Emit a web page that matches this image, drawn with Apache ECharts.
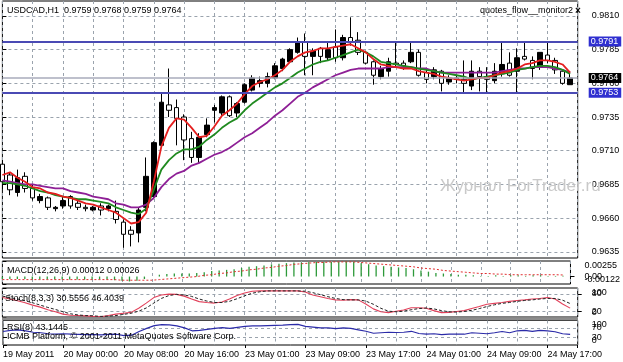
<!DOCTYPE html>
<html><head><meta charset="utf-8">
<script src="https://cdn.jsdelivr.net/npm/echarts@6/dist/echarts.min.js"></script>
<style>html,body{margin:0;padding:0;background:#fff}#c{width:623px;height:362px}</style>
</head><body><div id="c"></div><script>
const FONT = '"Liberation Sans", Arial, sans-serif';

// ---- data (H1 bars, index 0 = 19 May 2011 16:00) ----
const tickLabels = ['19 May 2011','20 May 00:00','20 May 08:00','20 May 16:00','23 May 01:00','23 May 09:00','23 May 17:00','24 May 01:00','24 May 09:00','24 May 17:00'];
const priceTicks = [0.9635,0.9660,0.9685,0.9710,0.9735,0.9760,0.9785,0.9810];
const levelLines = [0.9791, 0.9753];
const bidLine = 0.9764;

const open = [0.9700,0.9692,0.9679,0.9691,0.9682,0.9673,0.9675,0.9667,0.9669,0.9676,
0.9671,0.9668,0.9666,0.9669,0.9667,0.9665,0.9657,0.9651,0.9649,0.9668,
0.9676,0.9714,0.9744,0.9742,0.9735,0.9719,0.9705,0.9722,0.9740,0.9738,
0.9750,0.9738,0.9746,0.9755,0.9760,0.9760,0.9764,0.9771,0.9776,0.9783,
0.9791,0.9780,0.9786,0.9779,0.9787,0.9779,0.9794,0.9792,0.9783,0.9776,
0.9765,0.9769,0.9775,0.9775,0.9776,0.9783,0.9768,0.9765,0.9769,0.9761,
0.9764,0.9763,0.9758,0.9769,0.9765,0.9762,0.9767,0.9775,0.9769,0.9780,
0.9777,0.9772,0.9781,0.9777,0.9769,0.9759];
const close = [0.9687,0.9681,0.9690,0.9682,0.9675,0.9676,0.9668,0.9668,0.9673,0.9669,
0.9668,0.9667,0.9668,0.9666,0.9669,0.9659,0.9648,0.9648,0.9666,0.9691,
0.9716,0.9746,0.9740,0.9734,0.9718,0.9705,0.9720,0.9729,0.9742,0.9750,
0.9736,0.9745,0.9759,0.9764,0.9762,0.9765,0.9773,0.9778,0.9785,0.9790,
0.9780,0.9784,0.9780,0.9785,0.9779,0.9794,0.9791,0.9783,0.9775,0.9766,
0.9771,0.9776,0.9774,0.9773,0.9783,0.9766,0.9763,0.9770,0.9760,0.9764,
0.9763,0.9760,0.9769,0.9765,0.9763,0.9769,0.9774,0.9766,0.9779,0.9778,
0.9771,0.9783,0.9777,0.9770,0.9760,0.9764];
const high = [0.9703,0.9694,0.9696,0.9694,0.9685,0.9678,0.9676,0.9669,0.9676,0.9677,
0.9673,0.9670,0.9669,0.9671,0.9670,0.9673,0.9659,0.9654,0.9668,0.9705,
0.9717,0.9753,0.9771,0.9748,0.9737,0.9724,0.9723,0.9734,0.9744,0.9751,
0.9751,0.9746,0.9760,0.9766,0.9765,0.9768,0.9775,0.9779,0.9786,0.9794,
0.9797,0.9786,0.9787,0.9791,0.9800,0.9796,0.9809,0.9798,0.9784,0.9777,
0.9773,0.9779,0.9791,0.9777,0.9791,0.9785,0.9770,0.9772,0.9770,0.9766,
0.9766,0.9777,0.9777,0.9772,0.9772,0.9775,0.9790,0.9783,0.9786,0.9790,
0.9780,0.9783,0.9790,0.9779,0.9770,0.9768];
const low = [0.9681,0.9677,0.9676,0.9679,0.9673,0.9671,0.9666,0.9665,0.9667,0.9667,
0.9666,0.9665,0.9665,0.9662,0.9665,0.9656,0.9638,0.9639,0.9642,0.9665,
0.9674,0.9713,0.9735,0.9714,0.9703,0.9701,0.9701,0.9720,0.9731,0.9736,
0.9735,0.9735,0.9745,0.9754,0.9757,0.9757,0.9763,0.9769,0.9775,0.9782,
0.9766,0.9766,0.9775,0.9777,0.9776,0.9777,0.9788,0.9781,0.9774,0.9759,
0.9763,0.9765,0.9772,0.9770,0.9775,0.9765,0.9760,0.9763,0.9754,0.9759,
0.9760,0.9753,0.9755,0.9754,0.9753,0.9760,0.9765,0.9765,0.9753,0.9777,
0.9763,0.9770,0.9775,0.9767,0.9759,0.9759];

const maFast = [0.9692,0.9694,0.9690,0.9687,0.9683,0.9682,0.9679,0.9678,0.9676,0.9675,
0.9673,0.9671,0.9670,0.9668,0.9666,0.9664,0.9660,0.9656,0.9657,0.9664,
0.9687,0.9713,0.9727,0.9734,0.9733,0.9727,0.9720,0.9721,0.9728,0.9736,
0.9740,0.9745,0.9752,0.9758,0.9761,0.9763,0.9766,0.9770,0.9776,0.9780,
0.9783,0.9784,0.9786,0.9786,0.9787,0.9788,0.9789,0.9786,0.9783,0.9778,
0.9774,0.9773,0.9772,0.9771,0.9771,0.9769,0.9768,0.9767,0.9765,0.9764,
0.9763,0.9762,0.9763,0.9764,0.9764,0.9766,0.9768,0.9769,0.9771,0.9774,
0.9775,0.9777,0.9777,0.9776,0.9774,0.9768];
const maMid = [0.9686,0.9686,0.9685,0.9684,0.9682,0.9680,0.9679,0.9677,0.9676,0.9675,
0.9674,0.9674,0.9673,0.9672,0.9671,0.9668,0.9666,0.9664,0.9663,0.9667,
0.9681,0.9696,0.9703,0.9708,0.9711,0.9711,0.9713,0.9718,0.9722,0.9727,
0.9731,0.9734,0.9740,0.9745,0.9749,0.9753,0.9757,0.9760,0.9764,0.9768,
0.9771,0.9774,0.9776,0.9777,0.9779,0.9781,0.9783,0.9785,0.9783,0.9780,
0.9776,0.9775,0.9774,0.9773,0.9772,0.9771,0.9770,0.9769,0.9768,0.9767,
0.9766,0.9765,0.9763,0.9764,0.9765,0.9766,0.9767,0.9768,0.9770,0.9771,
0.9772,0.9773,0.9773,0.9772,0.9770,0.9767];
const maSlow = [0.9688,0.9687,0.9686,0.9685,0.9685,0.9684,0.9683,0.9682,0.9682,0.9680,
0.9679,0.9678,0.9676,0.9675,0.9674,0.9671,0.9670,0.9668,0.9668,0.9670,
0.9675,0.9683,0.9689,0.9693,0.9695,0.9699,0.9701,0.9704,0.9707,0.9709,
0.9712,0.9716,0.9720,0.9723,0.9727,0.9731,0.9736,0.9740,0.9745,0.9750,
0.9753,0.9757,0.9760,0.9763,0.9766,0.9768,0.9770,0.9771,0.9771,0.9771,
0.9771,0.9772,0.9772,0.9772,0.9772,0.9771,0.9771,0.9769,0.9768,0.9768,
0.9768,0.9768,0.9768,0.9768,0.9768,0.9768,0.9769,0.9770,0.9771,0.9771,
0.9772,0.9772,0.9772,0.9771,0.9770,0.9768];

const macdMain = [-0.0004,-0.0004,-0.0004,-0.0004,-0.0005,-0.0005,-0.0005,-0.0005,-0.0005,-0.0005,
-0.0005,-0.0005,-0.0005,-0.0005,-0.0005,-0.0006,-0.0007,-0.0008,-0.0007,-0.0004,
0.0000,0.0003,0.0004,0.0005,0.0005,0.0005,0.0006,0.0007,0.0009,0.0010,
0.0011,0.0012,0.0014,0.0016,0.0017,0.0018,0.0020,0.0021,0.0022,0.0023,
0.0023,0.0024,0.0024,0.0024,0.0024,0.0024,0.0025,0.0024,0.0022,0.0020,
0.0018,0.0017,0.0016,0.0015,0.0014,0.0012,0.0010,0.0008,0.0006,0.0005,
0.0004,0.0003,0.0003,0.0002,0.0001,0.0001,0.0002,0.0001,0.0002,0.0002,
0.0001,0.0002,0.0002,0.0001,0.0001,0.00012];
const macdSignal = [-0.0005,-0.0005,-0.0005,-0.0005,-0.0005,-0.0005,-0.0005,-0.0005,-0.0005,-0.0005,
-0.0005,-0.0005,-0.0005,-0.0005,-0.0005,-0.0005,-0.0006,-0.0006,-0.0006,-0.0006,
-0.0006,-0.0005,-0.0004,-0.0003,-0.0002,-0.0001,0.0000,0.0002,0.0003,0.0005,
0.0006,0.0008,0.0009,0.0011,0.0012,0.0014,0.0015,0.0017,0.0018,0.0020,
0.0021,0.0022,0.0023,0.0023,0.0024,0.0024,0.0024,0.0024,0.0023,0.0022,
0.0021,0.0020,0.0019,0.0018,0.0017,0.0016,0.0014,0.0013,0.0012,0.0010,
0.0009,0.0008,0.0007,0.0006,0.0005,0.0005,0.0004,0.0004,0.0003,0.0003,
0.0003,0.0003,0.0003,0.0003,0.0003,0.00026];
const macdRange = [-0.00122, 0.00255];
const macdLevels = [0];

const stochMain = [67,62,56,49,41,34,25,18,10,6,
5,4,2,1,5,10,13,16,30,48,
67,76,79,78,72,62,53,50,48,52,
62,74,83,89,90,90,90,90,90,90,
86,76,70,64,59,58,60,59,45,28,
18,15,20,24,32,32,30,22,15,16,
19,22,29,36,44,47,50,54,57,59,
62,64,67,62,45,30.5556];
const stochSignal = [72,67,62,56,49,41,33,26,18,11,
7,5,4,2,3,5,9,13,20,31,
48,64,74,78,76,71,62,55,50,50,
54,63,73,82,87,90,90,90,90,90,
89,84,77,70,64,60,59,59,55,44,
30,20,18,20,25,29,31,28,22,18,
17,19,23,29,36,42,47,50,54,57,
59,62,64,64,58,46.4039];
const stochLevels = [20, 80];

const rsi = [55,60,62,58,52,50,46,44,46,44,
43,42,42,41,43,44,38,40,55,68,
79,83,82,78,70,58,60,64,68,71,
68,72,76,78,78,79,80,81,83,84,
76,73,70,70,67,70,68,62,56,48,
50,52,51,52,56,47,44,46,42,44,
45,44,50,48,46,50,55,50,58,60,
56,60,58,54,46,43.1445];
const rsiLevels = [30, 70];
const oscRange = [0, 100];

// ---- build ----
const last = open.length - 1;
const candles = open.map((o, i) => [i, o, close[i], low[i], high[i]]);
const pair = arr => arr.map((v, i) => [i, v]);

const L = 2.4, R = 45.3;
const dash = {color: '#9aa3ad', type: [3, 3], width: 1};
const grids = [
  {left: L, right: R, top: 1, height: 257},
  {left: L, right: R, top: 261, height: 23},
  {left: L, right: R, top: 288, height: 29},
  {left: L, right: R, top: 320.5, height: 24.5}
].map(g => Object.assign(g, {show: true, borderColor: '#000', borderWidth: 1, backgroundColor: '#fff'}));

const xAxes = [0, 1, 2, 3].map(g => ({
  type: 'value', gridIndex: g, position: 'bottom', min: 0, max: 76, interval: 4,
  axisLine: {show: false}, axisTick: {show: false}, axisLabel: {show: false},
  splitLine: {show: true, lineStyle: dash}
}));
xAxes.push({
  type: 'value', gridIndex: 3, position: 'bottom', min: 0, max: 76, interval: 8,
  axisLine: {show: false}, splitLine: {show: false},
  axisTick: {show: true, length: 3, lineStyle: {color: '#000'}},
  axisLabel: {show: true, align: 'left', margin: 5, fontSize: 9, fontFamily: FONT, color: '#000',
    showMinLabel: true, showMaxLabel: true,
    formatter: v => { const k = Math.round(v / 8); return (Math.abs(v - k * 8) < 1e-6 && tickLabels[k]) ? tickLabels[k] : ''; }}
});

const lblBase = {fontSize: 9, fontFamily: FONT, color: '#000', showMinLabel: true, showMaxLabel: true, hideOverlap: false};
const tickStyle = vals => ({show: true, length: 4, customValues: vals, lineStyle: {color: '#000'}});

// edge axis: min/max labels hugging the panel edges
const edgeAxis = (g, range, fmt) => ({type: 'value', gridIndex: g, position: 'right', min: range[0], max: range[1],
  axisLine: {show: false}, axisTick: tickStyle(range),
  axisLabel: Object.assign({customValues: range, margin: 14, verticalAlignMinLabel: 'bottom', verticalAlignMaxLabel: 'top', formatter: fmt}, lblBase),
  splitLine: {show: false}});
// level axis: interior levels, centred, with dashed level lines
const levelAxis = (g, range, levels, fmt, showLines) => ({type: 'value', gridIndex: g, position: 'right', offset: 0, min: range[0], max: range[1],
  axisLine: {show: false}, axisTick: tickStyle(levels),
  axisLabel: Object.assign({customValues: levels, margin: 14, formatter: fmt}, lblBase),
  splitLine: {show: showLines, lineStyle: dash}});

const macdFmt = v => Math.abs(v) < 1e-9 ? '0.00' : v.toFixed(5);
const yAxes = [
  {type: 'value', gridIndex: 0, position: 'right', min: 0.96304, max: 0.98211,
   axisLine: {show: false}, axisTick: tickStyle(priceTicks),
   axisLabel: Object.assign({customValues: priceTicks, margin: 14, formatter: v => v.toFixed(4)}, lblBase),
   splitLine: {show: true, lineStyle: dash}},
  edgeAxis(1, macdRange, macdFmt),
  edgeAxis(2, oscRange, v => String(v)),
  edgeAxis(3, oscRange, v => String(v)),
  levelAxis(1, macdRange, macdLevels, macdFmt, false),
  levelAxis(2, oscRange, stochLevels, v => String(v), true),
  levelAxis(3, oscRange, rsiLevels, v => String(v), true)
];

const lineS = (data, xi, color, width, type) => ({
  type: 'line', xAxisIndex: xi, yAxisIndex: xi, data: pair(data), showSymbol: false, symbol: 'none',
  lineStyle: {color, width, type: type || 'solid'}, silent: true, animation: false, z: 3
});

const boxLabel = (v, bg) => ({show: true, position: 'end', distance: 11, formatter: v.toFixed(4),
  fontSize: 9, fontFamily: FONT, color: '#fff', backgroundColor: bg, padding: [1, 3, 0, 2]});

const slowSeries = lineS(maSlow, 0, '#8e1f96', 1.8);
slowSeries.markLine = {symbol: ['none', 'none'], silent: true, animation: false, precision: 4,
  data: [
    {yAxis: levelLines[0], lineStyle: {color: '#4a4ab4', width: 2, type: 'solid'}, label: boxLabel(levelLines[0], '#2f2fd0')},
    {yAxis: bidLine, lineStyle: {color: '#a9abbb', width: 1.5, type: 'solid'}, label: boxLabel(bidLine, '#000')},
    {yAxis: levelLines[1], lineStyle: {color: '#4a4ab4', width: 2, type: 'solid'}, label: boxLabel(levelLines[1], '#2f2fd0')}
  ]};

const series = [
  {type: 'candlestick', xAxisIndex: 0, yAxisIndex: 0, data: candles, encode: {x: 0, y: [1, 2, 3, 4]},
   barWidth: 5, clip: true, silent: true, animation: false, z: 2,
   itemStyle: {color: '#000', color0: '#fff', borderColor: '#000', borderColor0: '#000', borderWidth: 1}},
  slowSeries,
  lineS(maMid, 0, '#1f8a1f', 1.8),
  lineS(maFast, 0, '#e41e1e', 1.8),
  {type: 'bar', xAxisIndex: 1, yAxisIndex: 1, data: pair(macdMain), barWidth: 1.3,
   itemStyle: {color: '#2e9a3a'}, silent: true, animation: false},
  lineS(macdSignal, 1, '#e03030', 1, [2, 2]),
  lineS(stochMain, 2, '#e2405a', 1.1),
  lineS(stochSignal, 2, '#222', 1, [3, 2]),
  lineS(rsi, 3, '#2b2ba8', 1.2)
];

const txt = (x, y, text, extra) => ({type: 'text', x, y, z: 50, silent: true,
  style: Object.assign({text, font: '9px ' + FONT, fill: '#000', verticalAlign: 'middle'}, extra || {})});

const graphic = [
  {type: 'rect', shape: {x: 2, y: 317.5, width: 576, height: 3}, style: {fill: '#8c8c8c'}, z: 40, silent: true},
  txt(440, 186, 'Журнал ForTrader.ru', {font: '17px ' + FONT, fill: '#c9c9c9'}),
  txt(7, 10.5, 'USDCAD,H1  ' + [open[last], high[last], low[last], close[last]].map(v => v.toFixed(4)).join(' ')),
  txt(480, 11, 'quotes_flow__monitor2'),
  txt(578, 11, '×', {font: 'bold 10px ' + FONT, align: 'center'}),
  txt(7, 271, 'MACD(12,26,9) ' + macdMain[last].toFixed(5) + ' ' + macdSignal[last].toFixed(5)),
  txt(5, 298.5, 'Stoch(8,3,3) ' + stochMain[last].toFixed(4) + ' ' + stochSignal[last].toFixed(4)),
  txt(7, 327.5, 'RSI(8) ' + rsi[last].toFixed(4)),
  txt(7, 336.5, 'ICMB Platform, © 2001-2011 MetaQuotes Software Corp.')
];

const chart = echarts.init(document.getElementById('c'), null, {renderer: 'canvas'});
chart.setOption({
  animation: false, backgroundColor: '#fff',
  grid: grids, xAxis: xAxes, yAxis: yAxes, series, graphic
});
</script></body></html>
